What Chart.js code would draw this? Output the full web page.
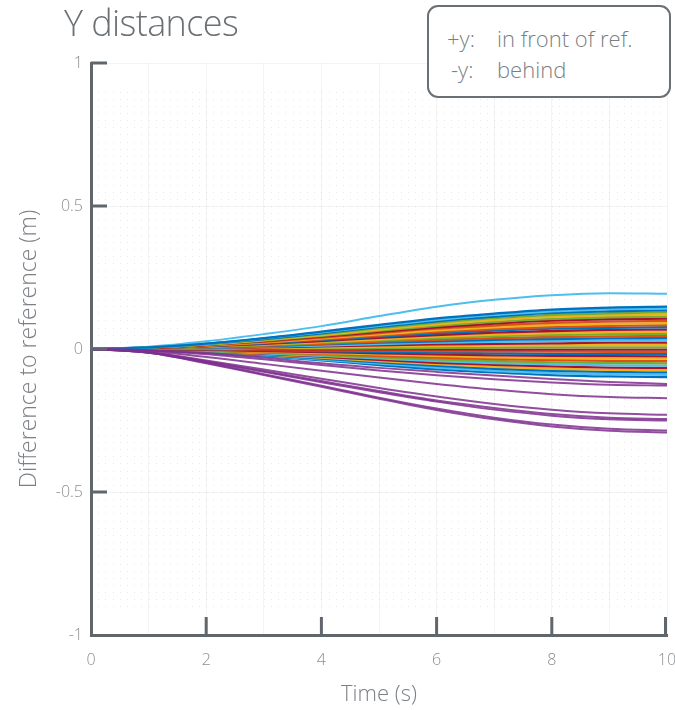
<!DOCTYPE html>
<html>
<head>
<meta charset="utf-8">
<script src="https://cdn.jsdelivr.net/npm/chart.js@4"></script>
<style>
  html,body{margin:0;padding:0;background:#fff;}
  #wrap{position:relative;width:675px;height:710px;overflow:hidden;font-family:"Open Sans","Noto Sans",sans-serif;}
  #title{position:absolute;left:64px;top:-2px;font-size:36px;font-weight:300;color:#6b7075;letter-spacing:-0.6px;}
  #note{position:absolute;left:427px;top:5px;width:240px;height:89px;border:2px solid #6b7075;border-radius:11px;background:#fff;
        font-size:22px;font-weight:300;color:#7a7f84;z-index:2;}
  #note div{position:absolute;white-space:nowrap;}
  canvas{position:absolute;left:0;top:0;}
</style>
</head>
<body>
<div id="wrap">
  <canvas id="c" width="675" height="710"></canvas>
  <div id="title">Y distances</div>
  <div id="note">
    <div style="left:18px;top:16px">+y:</div><div style="left:68px;top:16px">in front of ref.</div>
    <div style="left:22px;top:47px">-y:</div><div style="left:68px;top:47px">behind</div>
  </div>
</div>
<script>
// Y distance of each follower to the reference, sampled every second
const times = [0,1,2,3,4,5,6,7,8,9,10];
const xTickLabels = ['0','','2','','4','','6','','8','','10'];
const yTickValues = [1,0.5,0,-0.5,-1];

// the top one (light blue), drifts furthest ahead
const topLine = [0,0.008,0.027,0.052,0.080,0.115,0.148,0.172,0.188,0.195,0.193];

// the dense band around zero
const bandLines = [
  [0,0.006,0.019,0.038,0.061,0.084,0.107,0.124,0.138,0.145,0.148],
  [0,0.006,0.018,0.037,0.058,0.081,0.102,0.119,0.132,0.139,0.142],
  [0,0.005,0.018,0.035,0.055,0.077,0.097,0.113,0.126,0.132,0.135],
  [0,0.005,0.017,0.033,0.052,0.073,0.092,0.108,0.119,0.125,0.128],
  [0,0.005,0.016,0.031,0.049,0.068,0.086,0.101,0.112,0.118,0.120],
  [0,0.005,0.015,0.029,0.046,0.064,0.081,0.095,0.105,0.111,0.113],
  [0,0.004,0.014,0.028,0.043,0.060,0.076,0.089,0.099,0.104,0.106],
  [0,0.004,0.013,0.025,0.040,0.056,0.071,0.082,0.091,0.096,0.098],
  [0,0.004,0.012,0.023,0.037,0.051,0.065,0.076,0.084,0.088,0.090],
  [0,0.003,0.011,0.022,0.034,0.047,0.060,0.070,0.077,0.081,0.083],
  [0,0.003,0.010,0.020,0.031,0.043,0.055,0.064,0.071,0.074,0.076],
  [0,0.003,0.009,0.018,0.028,0.039,0.049,0.057,0.063,0.067,0.068],
  [0,0.002,0.008,0.016,0.025,0.034,0.043,0.050,0.056,0.059,0.060],
  [0,0.002,0.007,0.014,0.022,0.030,0.038,0.045,0.049,0.052,0.053],
  [0,0.002,0.006,0.012,0.018,0.026,0.032,0.038,0.042,0.044,0.045],
  [0,0.002,0.005,0.010,0.016,0.022,0.027,0.032,0.035,0.037,0.038],
  [0,0.001,0.004,0.008,0.012,0.017,0.022,0.025,0.028,0.029,0.030],
  [0,0.001,0.003,0.006,0.009,0.013,0.016,0.018,0.020,0.022,0.022],
  [0,0.001,0.002,0.004,0.006,0.008,0.010,0.012,0.013,0.014,0.014],
  [0,0.000,0.001,0.002,0.002,0.003,0.004,0.005,0.006,0.006,0.006],
  [0,0.000,0.000,-0.001,-0.001,-0.001,-0.001,-0.002,-0.002,-0.002,-0.002],
  [0,0.000,-0.001,-0.003,-0.004,-0.006,-0.007,-0.008,-0.009,-0.010,-0.010],
  [0,-0.001,-0.002,-0.005,-0.007,-0.010,-0.013,-0.015,-0.017,-0.018,-0.018],
  [0,-0.001,-0.003,-0.007,-0.011,-0.015,-0.019,-0.022,-0.024,-0.025,-0.026],
  [0,-0.001,-0.004,-0.009,-0.014,-0.019,-0.024,-0.029,-0.032,-0.033,-0.034],
  [0,-0.002,-0.005,-0.011,-0.017,-0.024,-0.030,-0.035,-0.039,-0.041,-0.042],
  [0,-0.002,-0.007,-0.013,-0.021,-0.029,-0.036,-0.042,-0.047,-0.049,-0.050],
  [0,-0.002,-0.008,-0.015,-0.024,-0.033,-0.042,-0.049,-0.054,-0.057,-0.058],
  [0,-0.003,-0.009,-0.017,-0.027,-0.038,-0.048,-0.055,-0.061,-0.065,-0.066],
  [0,-0.003,-0.010,-0.019,-0.030,-0.042,-0.053,-0.062,-0.069,-0.073,-0.074],
  [0,-0.003,-0.011,-0.021,-0.034,-0.047,-0.059,-0.069,-0.076,-0.080,-0.082],
  [0,-0.004,-0.012,-0.023,-0.037,-0.051,-0.065,-0.076,-0.084,-0.088,-0.090],
  [0,-0.004,-0.013,-0.025,-0.040,-0.056,-0.071,-0.082,-0.091,-0.096,-0.098]
];
const bandColors = ['#0072BD','#4DBEEE','#0072BD','#77AC30','#EDB120','#77AC30','#A2142F','#D95319',
  '#EDB120','#D95319','#0072BD','#A2142F','#EDB120','#77AC30','#D95319','#0072BD','#4DBEEE','#A2142F',
  '#EDB120','#77AC30','#A2142F','#D95319','#0072BD','#A2142F','#EDB120','#D95319','#77AC30','#4DBEEE',
  '#A2142F','#EDB120','#0072BD','#4DBEEE','#0072BD'];

// the followers that fall behind (purple)
const behindLines = [
  [0,-0.004,-0.014,-0.030,-0.050,-0.066,-0.080,-0.093,-0.105,-0.115,-0.122],
  [0,-0.005,-0.018,-0.036,-0.056,-0.075,-0.092,-0.106,-0.117,-0.125,-0.128],
  [0,-0.008,-0.028,-0.052,-0.076,-0.100,-0.122,-0.142,-0.158,-0.168,-0.172],
  [0,-0.011,-0.040,-0.072,-0.104,-0.136,-0.166,-0.192,-0.212,-0.225,-0.230],
  [0,-0.012,-0.043,-0.077,-0.112,-0.147,-0.180,-0.206,-0.227,-0.240,-0.245],
  [0,-0.012,-0.045,-0.080,-0.116,-0.151,-0.184,-0.212,-0.233,-0.246,-0.250],
  [0,-0.013,-0.048,-0.088,-0.128,-0.170,-0.208,-0.240,-0.264,-0.279,-0.285],
  [0,-0.013,-0.050,-0.091,-0.132,-0.174,-0.213,-0.246,-0.271,-0.286,-0.292]
];

const AXIS = '#5f666c';
const LABEL = '#8b8f93';

function series(vals, color, w){
  return {
    data: vals.map((v,i)=>({x: times[i], y: v})),
    borderColor: color, borderWidth: w, pointRadius: 0,
    cubicInterpolationMode: 'monotone', fill: false
  };
}

const datasets = [];
behindLines.forEach(v => datasets.push(series(v, 'rgba(126,47,142,0.85)', 2)));
bandLines.forEach((v,i) => datasets.push(series(v, bandColors[i], 2.3)));
datasets.push(series(topLine, '#4DBEEE', 2));

// faint dotted texture behind the lines
const dotGrid = {
  id: 'dotGrid',
  beforeDatasetsDraw(chart){
    const {ctx, scales:{x,y}} = chart;
    ctx.save();
    ctx.fillStyle = 'rgba(0,0,0,0.085)';
    for(let ty = -0.9; ty <= 0.9001; ty += 0.025){
      const py = Math.round(y.getPixelForValue(ty));
      for(let tx = 0.125; tx < 10; tx += 0.125){
        ctx.fillRect(Math.round(x.getPixelForValue(tx)), py, 1, 1);
      }
    }
    ctx.restore();
  }
};

// inward ticks on both axes
const innerTicks = {
  id: 'innerTicks',
  afterDatasetsDraw(chart){
    const {ctx, scales:{x,y}} = chart;
    ctx.save();
    ctx.strokeStyle = AXIS;
    ctx.lineWidth = 3;
    [1,0.5,0,-0.5].forEach(v=>{
      const py = y.getPixelForValue(v);
      ctx.beginPath(); ctx.moveTo(x.left, py); ctx.lineTo(x.left + 16, py); ctx.stroke();
    });
    [2,4,6,8,10].forEach(v=>{
      const px = Math.min(x.getPixelForValue(v), x.right - 1.5);
      ctx.beginPath(); ctx.moveTo(px, y.bottom); ctx.lineTo(px, y.bottom - 18); ctx.stroke();
    });
    ctx.restore();
  }
};

new Chart(document.getElementById('c'), {
  type: 'line',
  data: { datasets },
  plugins: [dotGrid, innerTicks],
  options: {
    responsive: false, animation: false,
    layout: { padding: { left: 0, right: 8, top: 63, bottom: 0 } },
    plugins: { legend: { display: false }, tooltip: { enabled: false } },
    scales: {
      x: {
        type: 'linear', min: 0, max: 10,
        afterFit(s){ s.height = 75; s.paddingLeft = 0; s.paddingRight = 0; },
        afterBuildTicks(s){ s.ticks = times.map(v=>({value:v})); },
        grid: { color: 'rgba(0,0,0,0.045)', drawTicks: false, lineWidth: 1 },
        border: { display: true, color: AXIS, width: 3 },
        ticks: { autoSkip: false, maxRotation: 0, padding: 16, color: LABEL,
                 font: { family: 'Open Sans', size: 16, weight: 300 },
                 callback: (v, i) => xTickLabels[i] },
        title: { display: true, text: 'Time (s)', color: '#7c8085',
                 font: { family: 'Open Sans', size: 22, weight: 300 }, padding: { top: 2, bottom: 2 } }
      },
      y: {
        type: 'linear', min: -1, max: 1,
        afterFit(s){ s.width = 91; s.paddingTop = 0; s.paddingBottom = 0; },
        afterBuildTicks(s){ s.ticks = yTickValues.map(v=>({value:v})); },
        grid: { color: 'rgba(0,0,0,0.045)', drawTicks: false, lineWidth: 1 },
        border: { display: true, color: AXIS, width: 3 },
        ticks: { padding: 8, color: LABEL,
                 font: { family: 'Open Sans', size: 16, weight: 300 },
                 callback: v => String(v) },
        title: { display: true, text: 'Difference to reference (m)', color: '#7c8085',
                 font: { family: 'Open Sans', size: 23, weight: 300 }, padding: { top: 16, bottom: 8 } }
      }
    }
  }
});
</script>
</body>
</html>
